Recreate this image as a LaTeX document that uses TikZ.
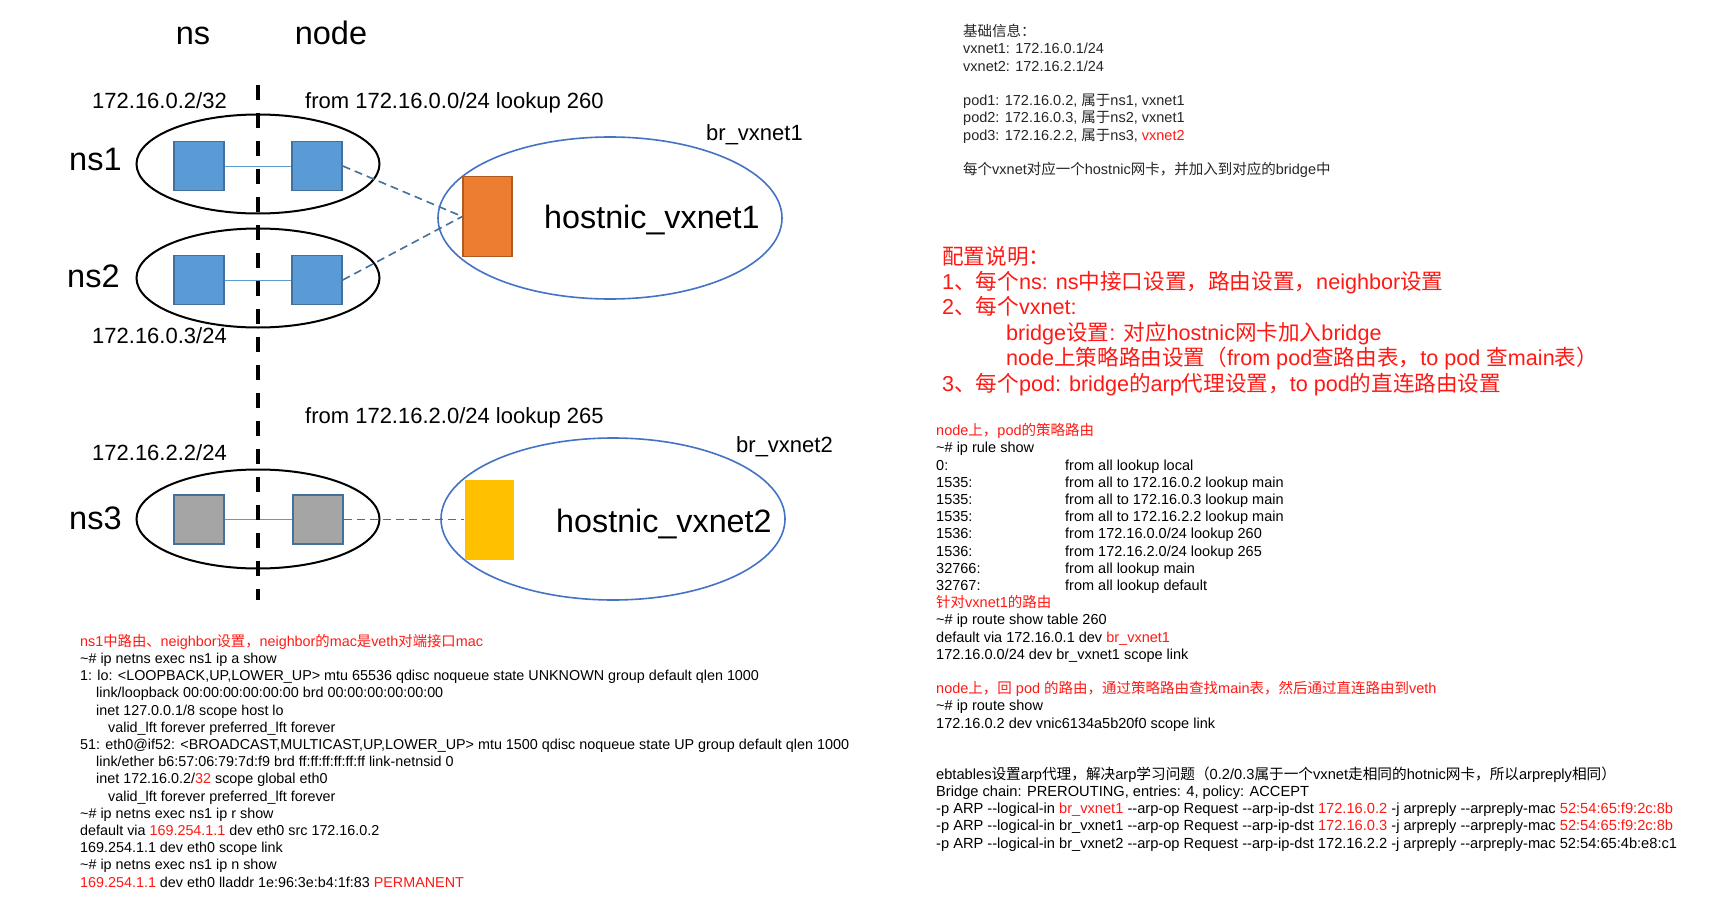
\documentclass[tikz,border=0pt]{standalone}
\usepackage{fontspec}
\setmainfont{Liberation Sans}[Ligatures={TeXOff,CommonOff}]
\newfontfamily\cjk{Noto Sans CJK SC}
\usetikzlibrary{shapes.geometric}
\definecolor{cVeth}{RGB}{91,155,213}
\definecolor{cEdge}{RGB}{65,113,156}
\definecolor{cBr}{RGB}{68,114,196}
\definecolor{cNicA}{RGB}{237,125,49}
\definecolor{cNicAedge}{RGB}{174,90,33}
\definecolor{cNicB}{RGB}{255,192,0}
\definecolor{cPodGray}{RGB}{165,165,165}
\definecolor{cRed}{RGB}{255,25,20}
\newcommand{\zh}[1]{{\cjk #1}}
\newcommand{\redtxt}[1]{\textcolor{cRed}{#1}}
\newcommand{\rulecol}[1]{\makebox[129pt][l]{#1}}
\tikzset{
  nsellipse/.style={ellipse,draw=black,line width=2pt,inner sep=0pt,
                    minimum width=243pt,minimum height=99pt},
  brellipse/.style={ellipse,draw=cBr,line width=1.6pt,inner sep=0pt,
                    minimum width=344pt,minimum height=162pt},
  vethbox/.style={rectangle,draw=cEdge,line width=1.5pt,fill=cVeth,
                  inner sep=0pt,minimum width=50pt,minimum height=49pt},
  graybox/.style={vethbox,fill=cPodGray},
  nicbox/.style={rectangle,inner sep=0pt,minimum width=49pt,minimum height=80pt},
  biglbl/.style={font=\fontsize{32.5}{38}\selectfont,inner sep=0pt},
  niclbl/.style={font=\fontsize{32.3}{38}\selectfont,inner sep=0pt,anchor=base west},
  midlbl/.style={font=\fontsize{22}{26}\selectfont,inner sep=0pt,anchor=base west},
  codeblk/.style={font=\fontsize{14.5}{17.2}\selectfont,align=left,
                  inner sep=0pt,anchor=base west},
  noteblk/.style={font=\fontsize{21.6}{25.4}\selectfont,align=left,
                  inner sep=0pt,anchor=base west,text=cRed},
  vethlink/.style={draw=cVeth,line width=1pt},
  brlink/.style={draw=cEdge,line width=1.6pt,dash pattern=on 8pt off 5pt},
  sepline/.style={line width=4pt,dash pattern=on 15pt off 13pt}
}
\begin{document}
\begin{tikzpicture}[x=1pt,y=-1pt]

  \fill[white] (0,0) rectangle (1709,907);
  \useasboundingbox (0,0) rectangle (1709,907);

  % column heads
  \node[biglbl,anchor=base] (hns)   at (193,45) {ns};
  \node[biglbl,anchor=base] (hnode) at (331,45) {node};

  % namespaces
  \node[nsellipse] (ns1) at (258,164) {};
  \node[nsellipse] (ns2) at (258,278) {};
  \node[nsellipse] (ns3) at (258,519) {};

  \node[vethbox] (eth1)  at (199,166) {};
  \node[vethbox] (veth1) at (317,166) {};
  \node[vethbox] (eth2)  at (199,280) {};
  \node[vethbox] (veth2) at (317,280) {};
  \node[graybox] (eth3)  at (199,519.5) {};
  \node[graybox] (veth3) at (318,519.5) {};

  \node[biglbl,anchor=base west] (lns1) at (69,170) {ns1};
  \node[biglbl,anchor=base west] (lns2) at (67,287) {ns2};
  \node[biglbl,anchor=base west] (lns3) at (69,529) {ns3};

  \node[midlbl] (ip1) at (92,108) {172.16.0.2/32};
  \node[midlbl] (ip2) at (92,343) {172.16.0.3/24};
  \node[midlbl] (ip3) at (92,460) {172.16.2.2/24};
  \node[midlbl] (rt1) at (305,108) {from 172.16.0.0/24 lookup 260};
  \node[midlbl] (rt2) at (305,423) {from 172.16.2.0/24 lookup 265};

  % bridges
  \node[brellipse] (br1) at (610,218) {};
  \node[brellipse] (br2) at (613,519) {};
  \node[nicbox,fill=cNicA,draw=cNicAedge,line width=1.5pt] (nic1) at (487.5,216.5) {};
  \node[nicbox,fill=cNicB] (nic2) at (489,519.5) {};
  \node[niclbl] (lnic1) at (544,228) {hostnic\_vxnet1};
  \node[niclbl] (lnic2) at (556,532) {hostnic\_vxnet2};
  \node[midlbl] (lbr1) at (706,140) {br\_vxnet1};
  \node[midlbl] (lbr2) at (736,452) {br\_vxnet2};

  % links
  \foreach \a/\b in {eth1/veth1,eth2/veth2,eth3/veth3}
    \draw[vethlink] (\a) -- (\b);
  \draw[brlink] (veth1.east) -- (nic1.west);
  \draw[brlink] (veth2.east) -- (nic1.west);
  \draw[brlink] (veth3.east) -- (nic2.west);

  \coordinate (septop) at (258,85);
  \coordinate (sepbot) at (258,600);
  \draw[sepline] (septop) -- (sepbot);

  % ns1 output (anchored on its last line)
  \node[codeblk,font=\fontsize{14.35}{17.2}\selectfont] (nsout) at (80,887) {%
    \redtxt{ns1\zh{中路由、}neighbor\zh{设置，}neighbor\zh{的}mac\zh{是}veth\zh{对端接口}mac}\\
    \textasciitilde\# ip netns exec ns1 ip a show\\
    1: lo: <LOOPBACK,UP,LOWER\_UP> mtu 65536 qdisc noqueue state UNKNOWN group default qlen 1000\\
    \hspace*{16pt}link/loopback 00:00:00:00:00:00 brd 00:00:00:00:00:00\\
    \hspace*{16pt}inet 127.0.0.1/8 scope host lo\\
    \hspace*{28pt}valid\_lft forever preferred\_lft forever\\
    51: eth0@if52: <BROADCAST,MULTICAST,UP,LOWER\_UP> mtu 1500 qdisc noqueue state UP group default qlen 1000\\
    \hspace*{16pt}link/ether b6:57:06:79:7d:f9 brd ff:ff:ff:ff:ff:ff link-netnsid 0\\
    \hspace*{16pt}inet 172.16.0.2/\redtxt{32} scope global eth0\\
    \hspace*{28pt}valid\_lft forever preferred\_lft forever\\
    \textasciitilde\# ip netns exec ns1 ip r show\\
    default via \redtxt{169.254.1.1} dev eth0 src 172.16.0.2\\
    169.254.1.1 dev eth0 scope link\\
    \textasciitilde\# ip netns exec ns1 ip n show\\
    \redtxt{169.254.1.1} dev eth0 lladdr 1e:96:3e:b4:1f:83 \redtxt{PERMANENT}};

  % basic info
  \node[codeblk,text=black!85] (info) at (963,174.5) {%
    \zh{基础信息：}\\
    vxnet1: 172.16.0.1/24\\
    vxnet2: 172.16.2.1/24\\[17.3pt]
    pod1: 172.16.0.2, \zh{属于}ns1, vxnet1\\
    pod2: 172.16.0.3, \zh{属于}ns2, vxnet1\\
    pod3: 172.16.2.2, \zh{属于}ns3, \redtxt{vxnet2}\\[17.3pt]
    \zh{每个}vxnet\zh{对应一个}hostnic\zh{网卡，并加入到对应的}bridge\zh{中}};

  % config notes
  \node[noteblk] (notes) at (942,391) {%
    \zh{配置说明：}\\
    1\zh{、每个}ns: ns\zh{中接口设置，路由设置，}neighbor\zh{设置}\\
    2\zh{、每个}vxnet:\\
    \hspace*{64pt}bridge\zh{设置}: \zh{对应}hostnic\zh{网卡加入}bridge\\
    \hspace*{64pt}node\zh{上策略路由设置（}from pod\zh{查路由表，}to pod \zh{查}main\zh{表）}\\
    3\zh{、每个}pod: bridge\zh{的}arp\zh{代理设置，}to pod\zh{的直连路由设置}};

  % node routes
  \node[codeblk] (rules) at (936,728) {%
    \redtxt{node\zh{上，}pod\zh{的策略路由}}\\
    \textasciitilde\# ip rule show\\
    \rulecol{0:}from all lookup local\\
    \rulecol{1535:}from all to 172.16.0.2 lookup main\\
    \rulecol{1535:}from all to 172.16.0.3 lookup main\\
    \rulecol{1535:}from all to 172.16.2.2 lookup main\\
    \rulecol{1536:}from 172.16.0.0/24 lookup 260\\
    \rulecol{1536:}from 172.16.2.0/24 lookup 265\\
    \rulecol{32766:}from all lookup main\\
    \rulecol{32767:}from all lookup default\\
    \redtxt{\zh{针对}vxnet1\zh{的路由}}\\
    \textasciitilde\# ip route show table 260\\
    default via 172.16.0.1 dev \redtxt{br\_vxnet1}\\
    172.16.0.0/24 dev br\_vxnet1 scope link\\[17.2pt]
    \redtxt{node\zh{上，回} pod \zh{的路由，通过策略路由查找}main\zh{表，然后通过直连路由到}veth}\\
    \textasciitilde\# ip route show\\
    172.16.0.2 dev vnic6134a5b20f0 scope link};

  % ebtables
  \node[codeblk,font=\fontsize{14.65}{17.25}\selectfont] (ebt) at (936,848) {%
    ebtables\zh{设置}arp\zh{代理，解决}arp\zh{学习问题（}0.2/0.3\zh{属于一个}vxnet\zh{走相同的}hotnic\zh{网卡，所以}arpreply\zh{相同）}\\
    Bridge chain: PREROUTING, entries: 4, policy: ACCEPT\\
    -p ARP --logical-in \redtxt{br\_vxnet1} --arp-op Request --arp-ip-dst \redtxt{172.16.0.2} -j arpreply --arpreply-mac \redtxt{52:54:65:f9:2c:8b}\\
    -p ARP --logical-in br\_vxnet1 --arp-op Request --arp-ip-dst \redtxt{172.16.0.3} -j arpreply --arpreply-mac \redtxt{52:54:65:f9:2c:8b}\\
    -p ARP --logical-in br\_vxnet2 --arp-op Request --arp-ip-dst 172.16.2.2 -j arpreply --arpreply-mac 52:54:65:4b:e8:c1};

\end{tikzpicture}
\end{document}
